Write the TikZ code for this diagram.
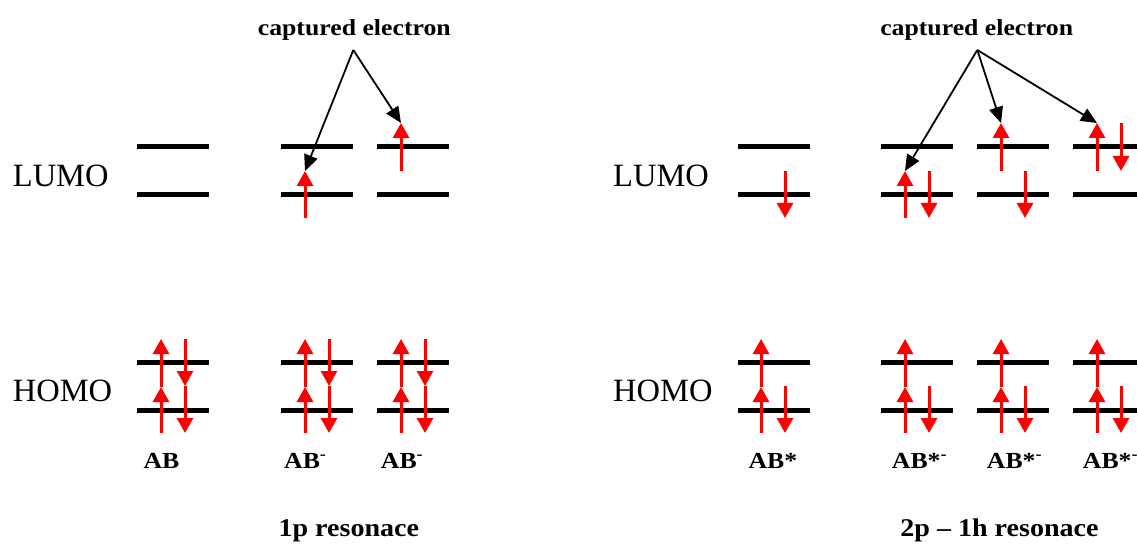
\documentclass[tikz,border=0pt]{standalone}
\usepackage{fontspec}
\setmainfont{Liberation Serif}
\usetikzlibrary{arrows.meta}
\begin{document}
\begin{tikzpicture}[x=1pt,y=-1pt,
  level/.style={line width=4.5pt},
  spin/.style={red, line width=3pt, -{Triangle[width=16pt,length=15pt]}},
  pointer/.style={line width=1.8pt, -{Triangle[width=14pt,length=16pt]}},
  lbl/.style={inner sep=0pt, anchor=base west, font=\fontsize{32.5}{34}\selectfont},
  bl/.style={inner sep=0pt, font=\fontsize{23}{25}\selectfont\bfseries},
  captext/.style={inner sep=0pt, anchor=base, font=\fontsize{25.5}{27}\selectfont\bfseries}]
\useasboundingbox (0,0) rectangle (1137,545);
% energy levels
\foreach \xo in {137,281,377,738,881,977,1073}{
  \foreach \yl in {146.5,194.5,362.5,410.5}{
    \pgfmathsetmacro{\xe}{min(\xo+72,1137)}
    \draw[level] (\xo,\yl) -- (\xe,\yl);
  }
}
% side labels
\node[lbl] (lumoL) at (12.7,186.7) {LUMO};
\node[lbl] (homoL) at (12.7,401.7) {HOMO};
\node[lbl] (lumoR) at (613,186.7) {LUMO};
\node[lbl] (homoR) at (613,401.7) {HOMO};
% HOMO spins, left group (fully occupied)
\foreach \xo in {137,281,377}{
  \draw[spin] (\xo+24,433) -- (\xo+24,387);
  \draw[spin] (\xo+24,387) -- (\xo+24,339);
  \draw[spin] (\xo+48,339) -- (\xo+48,386);
  \draw[spin] (\xo+48,386) -- (\xo+48,433);
}
% HOMO spins, right group (one hole)
\foreach \xo in {737,881,977,1073}{
  \draw[spin] (\xo+24,433) -- (\xo+24,387);
  \draw[spin] (\xo+24,387) -- (\xo+24,339);
  \draw[spin] (\xo+48,386) -- (\xo+48,433);
}
% LUMO spins, left group
\coordinate (t1) at (305,171);
\coordinate (t2) at (401,123);
\draw[spin] (305,218) -- (t1);
\draw[spin] (401,171) -- (t2);
% LUMO spins, right group
\draw[spin] (785,171) -- (785,218);
\coordinate (t3) at (905,171);
\coordinate (t4) at (1001,123);
\coordinate (t5) at (1097,123);
\draw[spin] (905,218) -- (t3);
\draw[spin] (929,171) -- (929,218);
\draw[spin] (1001,171) -- (t4);
\draw[spin] (1025,171) -- (1025,218);
\draw[spin] (1097,171) -- (t5);
\draw[spin] (1121,123) -- (1121,171);
% captured electron labels and pointers
\node[bl, anchor=base] (ceL) at (354.3,36) {\scalebox{1.12}[1]{captured electron}};
\node[bl, anchor=base] (ceR) at (976.7,36) {\scalebox{1.12}[1]{captured electron}};
\coordinate (aL) at (353.3,50);
\coordinate (aR) at (977.3,50);
\draw[pointer] (aL) -- (t1);
\draw[pointer] (aL) -- (t2);
\draw[pointer] (aR) -- (t3);
\draw[pointer] (aR) -- (t4);
\draw[pointer] (aR) -- (t5);
% species labels
\node[bl, anchor=base west] (ab) at (143.3,468.3) {\scalebox{1.12}[1]{AB}};
\node[bl, anchor=base west] (abm1) at (284,468.3) {\scalebox{1.12}[1]{AB\textsuperscript{-}}};
\node[bl, anchor=base west] (abm2) at (380.7,468.3) {\scalebox{1.12}[1]{AB\textsuperscript{-}}};
\node[bl, anchor=base west] (abs) at (748.3,468.3) {\scalebox{1.12}[1]{AB*}};
\node[bl, anchor=base west] (absm1) at (891.7,468.3) {\scalebox{1.12}[1]{AB*\textsuperscript{-}}};
\node[bl, anchor=base west] (absm2) at (986.7,468.3) {\scalebox{1.12}[1]{AB*\textsuperscript{-}}};
\node[bl, anchor=base west] (absm3) at (1082.7,468.3) {\scalebox{1.12}[1]{AB*\textsuperscript{-}}};
% captions
\node[captext] (c1) at (348.8,536) {\scalebox{1.1}[1]{1p resonace}};
\node[captext] (c2) at (999.5,536) {\scalebox{1.1}[1]{2p -- 1h resonace}};
\end{tikzpicture}
\end{document}
